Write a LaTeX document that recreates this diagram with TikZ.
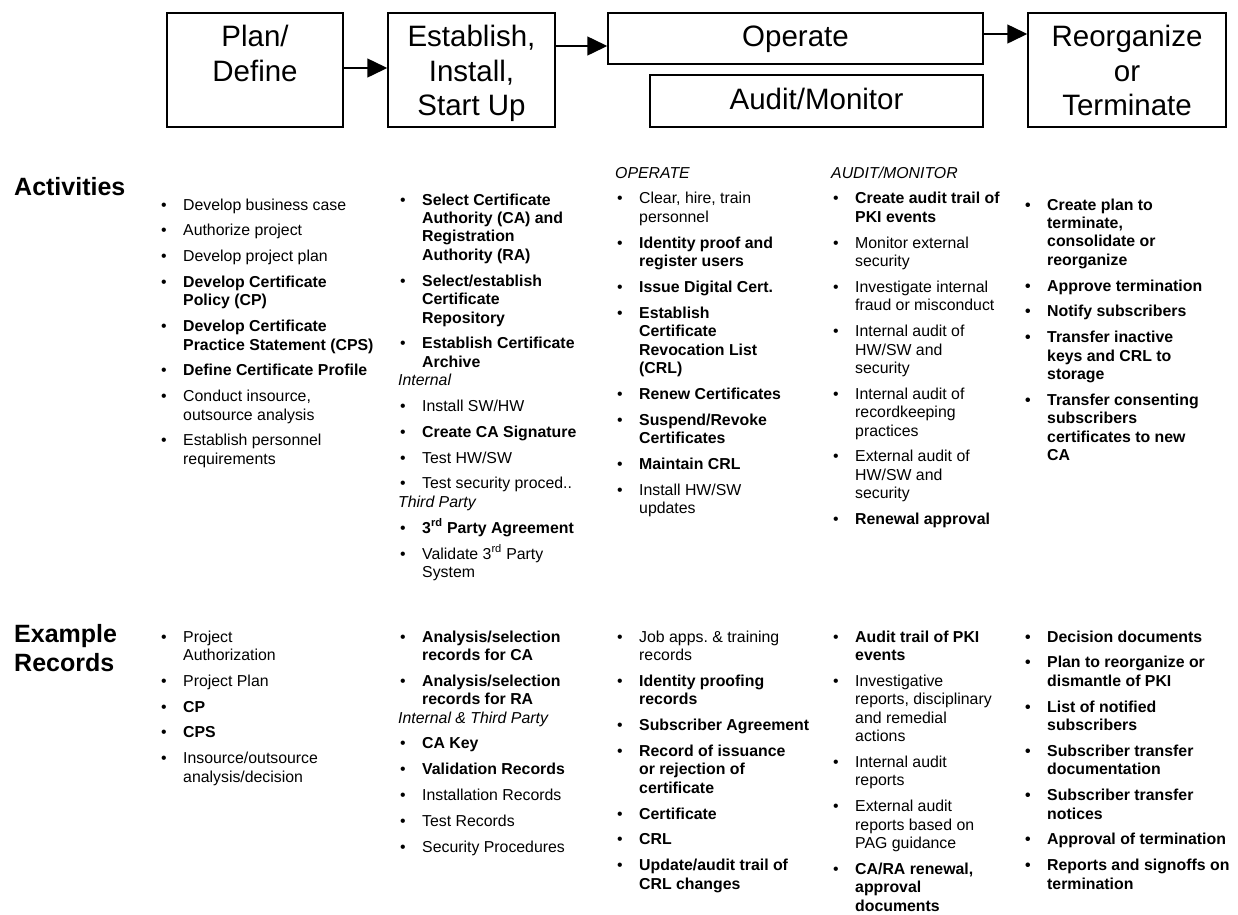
\documentclass[tikz,border=0pt]{standalone}
\usepackage{fontspec}
\setmainfont{Liberation Sans}
\usetikzlibrary{arrows.meta, calc, positioning}
\setlength{\parskip}{0pt}
\newcommand\itm[1]{\par\addvspace{7.35pt}\noindent\hangindent=24pt\hangafter=1\makebox[24pt][l]{\hspace{2pt}\textbullet}#1\par}
\newcommand\grp[1]{\par\noindent\textit{#1}\par}
\newcommand\bulletcol[1]{\begin{minipage}[t]{235pt}\raggedright#1\end{minipage}}

\begin{document}
\begin{tikzpicture}[x=1pt, y=-1pt,
        every node/.style={inner sep=0pt},
        stagebox/.style={draw, line width=1.5pt, minimum height=114pt},
        stagetxt/.style={font=\fontsize{29.5pt}{34.5pt}\selectfont, align=center, anchor=north},
        flow/.style={line width=1.5pt, -{Triangle[length=20pt, width=19pt]}},
        rowhead/.style={font=\fontsize{25pt}{29pt}\selectfont\bfseries, anchor=base west},
        listcol/.style={font=\fontsize{15.85pt}{18.45pt}\selectfont, anchor=base west}]
    \useasboundingbox (0,0) rectangle (1238,914);
    \begin{scope}
        \node[stagebox, minimum width=176pt] (planbox) at (255,70) {};
        \node[stagebox, minimum width=167pt] (estbox) at (471.5,70) {};
        \node[stagebox, minimum width=375pt, minimum height=51pt] (opbox) at (795.5,38.5) {};
        \node[stagebox, minimum width=333pt, minimum height=52pt] (auditbox) at (816.5,101) {};
        \node[stagebox, minimum width=198pt] (reorgbox) at (1127,70) {};

        \node[stagetxt, below=13pt of planbox.north] (plan) {Plan/\\Define};
        \node[stagetxt, below=13pt of estbox.north] (establish) {Establish,\\Install,\\Start Up};
        \node[stagetxt, below=13pt of opbox.north] (operate) {Operate};
        \node[stagetxt, below=14pt of auditbox.north] (audit) {Audit/Monitor};
        \node[stagetxt, below=13pt of reorgbox.north] (reorg) {Reorganize\\or\\Terminate};

        \coordinate (opin) at ([yshift=-7.5pt]opbox.west);
        \coordinate (opout) at ([yshift=4.5pt]opbox.east);
        \draw[flow] ([yshift=2pt]planbox.east) -- ([yshift=2pt]estbox.west);
        \draw[flow] (estbox.east |- opin) -- (opin);
        \draw[flow] (opout) -- (reorgbox.west |- opout);
    \end{scope}
    \begin{scope}
        \node[rowhead] (act) at (14,195) {Activities};
        \node[listcol] (actplan) at (159,210) {\bulletcol{\itm{Develop business case}\itm{Authorize project}\itm{Develop project plan}
            \itm{\textbf{Develop Certificate\newline Policy (CP)}}\itm{\textbf{Develop Certificate\newline Practice Statement (CPS)}}
            \itm{\textbf{Define Certificate Profile}}\itm{Conduct insource,\newline outsource analysis}
            \itm{Establish personnel\newline requirements}}};
        \node[listcol] (actest) at (398,205) {\bulletcol{\itm{\textbf{Select Certificate\newline Authority (CA) and\newline Registration\newline Authority (RA)}}
            \itm{\textbf{Select/establish\newline Certificate\newline Repository}}\itm{\textbf{Establish Certificate\newline Archive}}
            \grp{Internal}\itm{Install SW/HW}\itm{\textbf{Create CA Signature}}\itm{Test HW/SW}\itm{Test security proced..}
            \grp{Third Party}\itm{\textbf{3\textsuperscript{rd} Party Agreement}}\itm{Validate 3\textsuperscript{rd} Party\newline System}}};
        \node[listcol] (actop) at (615,178) {\bulletcol{\grp{OPERATE}\itm{Clear, hire, train\newline personnel}
            \itm{\textbf{Identity proof and\newline register users}}\itm{\textbf{Issue Digital Cert.}}
            \itm{\textbf{Establish\newline Certificate\newline Revocation List\newline (CRL)}}\itm{\textbf{Renew Certificates}}
            \itm{\textbf{Suspend/Revoke\newline Certificates}}\itm{\textbf{Maintain CRL}}\itm{Install HW/SW\newline updates}}};
        \node[listcol] (actaudit) at (831,178) {\bulletcol{\grp{AUDIT/MONITOR}\itm{\textbf{Create audit trail of\newline PKI events}}
            \itm{Monitor external\newline security}\itm{Investigate internal\newline fraud or misconduct}
            \itm{Internal audit of\newline HW/SW and\newline security}\itm{Internal audit of\newline recordkeeping\newline practices}
            \itm{External audit of\newline HW/SW and\newline security}\itm{\textbf{Renewal approval}}}};
        \node[listcol, font=\fontsize{15.85pt}{18.45pt}\selectfont\bfseries] (actreorg) at (1023,210) {\bulletcol{\itm{Create plan to\newline terminate,\newline consolidate or\newline reorganize}
            \itm{Approve termination}\itm{Notify subscribers}\itm{Transfer inactive\newline keys and CRL to\newline storage}
            \itm{Transfer consenting\newline subscribers\newline certificates to new\newline CA}}};

        \node[rowhead] (rec) at (14,642) {\begin{tabular}[t]{@{}l@{}}Example\\Records\end{tabular}};
        \node[listcol] (recplan) at (159,642) {\bulletcol{\itm{Project\newline Authorization}\itm{Project Plan}\itm{\textbf{CP}}\itm{\textbf{CPS}}
            \itm{Insource/outsource\newline analysis/decision}}};
        \node[listcol] (recest) at (398,642) {\bulletcol{\itm{\textbf{Analysis/selection\newline records for CA}}\itm{\textbf{Analysis/selection\newline records for RA}}
            \grp{Internal \& Third Party}\itm{\textbf{CA Key}}\itm{\textbf{Validation Records}}\itm{Installation Records}
            \itm{Test Records}\itm{Security Procedures}}};
        \node[listcol] (recop) at (615,642) {\bulletcol{\itm{Job apps.\ \& training\newline records}\itm{\textbf{Identity proofing\newline records}}
            \itm{\textbf{Subscriber Agreement}}\itm{\textbf{Record of issuance\newline or rejection of\newline certificate}}
            \itm{\textbf{Certificate}}\itm{\textbf{CRL}}\itm{\textbf{Update/audit trail of\newline CRL changes}}}};
        \node[listcol] (recaudit) at (831,642) {\bulletcol{\itm{\textbf{Audit trail of PKI\newline events}}
            \itm{Investigative\newline reports, disciplinary\newline and remedial\newline actions}\itm{Internal audit\newline reports}
            \itm{External audit\newline reports based on\newline PAG guidance}\itm{\textbf{CA/RA renewal,\newline approval\newline documents}}}};
        \node[listcol, font=\fontsize{15.85pt}{18.45pt}\selectfont\bfseries] (recreorg) at (1023,642) {\bulletcol{\itm{Decision documents}
            \itm{Plan to reorganize or\newline dismantle of PKI}\itm{List of notified\newline subscribers}
            \itm{Subscriber transfer\newline documentation}\itm{Subscriber transfer\newline notices}\itm{Approval of termination}
            \itm{Reports and signoffs on\newline termination}}};
    \end{scope}
\end{tikzpicture}
\end{document}
